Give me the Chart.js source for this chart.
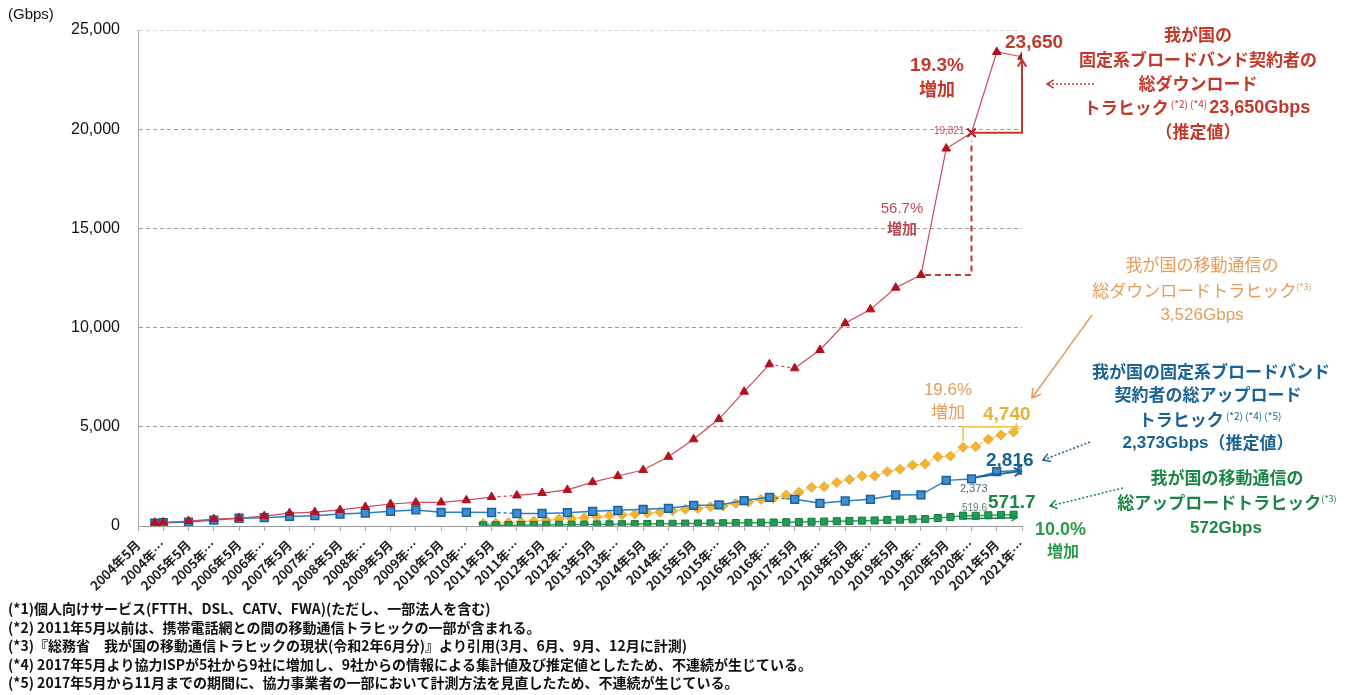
<!DOCTYPE html>
<html lang="ja">
<head>
<meta charset="utf-8">
<script src="https://cdn.jsdelivr.net/npm/chart.js@4.4.1/dist/chart.umd.min.js"></script>
<style>
  html, body { margin: 0; padding: 0; background: #fff; }
  #wrap { width: 1352px; height: 695px; }
</style>
</head>
<body>
<div id="wrap"><canvas id="myChart" width="1352" height="695"></canvas></div>
<script>
// Libellés de l'axe X (un tous les 6 mois)
const xLabels = [
  '2004年5月', '2004年…', '2005年5月', '2005年…', '2006年5月', '2006年…',
  '2007年5月', '2007年…', '2008年5月', '2008年…', '2009年5月', '2009年…',
  '2010年5月', '2010年…', '2011年5月', '2011年…', '2012年5月', '2012年…',
  '2013年5月', '2013年…', '2014年5月', '2014年…', '2015年5月', '2015年…',
  '2016年5月', '2016年…', '2017年5月', '2017年…', '2018年5月', '2018年…',
  '2019年5月', '2019年…', '2020年5月', '2020年…', '2021年5月', '2021年…'
];
const yTicks = [0, 5000, 10000, 15000, 20000, 25000];

// 固定系ブロードバンド（5月・11月）
const fixedDates = [
  '2004/9', '2004/11', '2005/5', '2005/11', '2006/5', '2006/11', '2007/5', '2007/11',
  '2008/5', '2008/11', '2009/5', '2009/11', '2010/5', '2010/11', '2011/5', '2011/11',
  '2012/5', '2012/11', '2013/5', '2013/11', '2014/5', '2014/11', '2015/5', '2015/11',
  '2016/5', '2016/11', '2017/5', '2017/11', '2018/5', '2018/11', '2019/5', '2019/11',
  '2020/5', '2020/11', '2021/5', '2021/11'
];
const fixedDown = [
  170, 190, 250, 350, 400, 500, 650, 700,
  810, 960, 1110, 1190, 1190, 1300, 1460, 1540,
  1660, 1820, 2210, 2520, 2820, 3490, 4370, 5390,
  6770, 8150, 7950, 8870, 10220, 10920, 12010, 12650,
  19025, 19821, 23890, 23650
];
const fixedUp = [
  150, 170, 200, 300, 390, 420, 480, 520,
  600, 650, 740, 810, 690, 690, 680, 630,
  630, 670, 740, 790, 840, 890, 1040, 1060,
  1280, 1445, 1345, 1143, 1260, 1345, 1562, 1570,
  2300, 2373, 2737, 2816
];
// ruptures de série (trait pointillé après ces dates)
const breakDates = ['2011/5', '2016/11'];

// 移動通信（3月・6月・9月・12月）
const mobileDates = [
  '2011/3', '2011/6', '2011/9', '2011/12', '2012/3', '2012/6', '2012/9', '2012/12',
  '2013/3', '2013/6', '2013/9', '2013/12', '2014/3', '2014/6', '2014/9', '2014/12',
  '2015/3', '2015/6', '2015/9', '2015/12', '2016/3', '2016/6', '2016/9', '2016/12',
  '2017/3', '2017/6', '2017/9', '2017/12', '2018/3', '2018/6', '2018/9', '2018/12',
  '2019/3', '2019/6', '2019/9', '2019/12', '2020/3', '2020/6', '2020/9', '2020/12',
  '2021/3', '2021/6', '2021/9'
];
const mobileDown = [
  120, 140, 170, 200, 250, 290, 340, 380,
  420, 470, 520, 560, 600, 650, 700, 760,
  840, 880, 970, 1010, 1140, 1200, 1340, 1400,
  1560, 1700, 1950, 1980, 2190, 2350, 2520, 2520,
  2740, 2860, 3070, 3130, 3490, 3526, 3963, 4000,
  4370, 4590, 4740
];
const mobileUp = [
  35, 38, 42, 46, 52, 56, 62, 66,
  72, 78, 84, 88, 95, 100, 108, 112,
  120, 126, 135, 140, 150, 158, 168, 175,
  190, 200, 215, 222, 240, 255, 270, 278,
  300, 320, 340, 350, 400, 455, 519.6, 515,
  540, 555, 571.7
];

const footnotes = [
  '(*1)個人向けサービス(FTTH、DSL、CATV、FWA)(ただし、一部法人を含む)',
  '(*2) 2011年5月以前は、携帯電話網との間の移動通信トラヒックの一部が含まれる。',
  '(*3)『総務省　我が国の移動通信トラヒックの現状(令和2年6月分)』より引用(3月、6月、9月、12月に計測)',
  '(*4) 2017年5月より協力ISPが5社から9社に増加し、9社からの情報による集計値及び推定値としたため、不連続が生じている。',
  '(*5) 2017年5月から11月までの期間に、協力事業者の一部において計測方法を見直したため、不連続が生じている。'
];

const CJK = '"Noto Sans CJK JP", "Noto Sans", sans-serif';
const LAT = '"Liberation Sans", Arial, sans-serif';
const RED = '#c0392b', ORANGE = '#e39d5e', YELLOW = '#e8b230', BLUE = '#1b6393', GREEN = '#1c8646';

// mois écoulés depuis 2004年5月
const toMonth = s => { const [y, m] = s.split('/').map(Number); return (y - 2004) * 12 + (m - 5); };
const toPoints = (dates, vals) => dates.map((d, i) => ({ x: toMonth(d), y: vals[i] }));
const breaks = breakDates.map(toMonth);
const dashBreak = ctx => breaks.includes(ctx.p0.parsed.x) ? [3, 3] : undefined;

// --- petites fonctions de dessin ---
function txt(ctx, s, x, y, color, size, weight, family, align) {
  ctx.save();
  ctx.fillStyle = color;
  ctx.font = `${weight} ${size}px ${family}`;
  ctx.textAlign = align || 'left';
  ctx.textBaseline = 'middle';
  ctx.fillText(s, x, y);
  ctx.restore();
}

// ligne composée de plusieurs morceaux, centrée sur x
function runs(ctx, parts, x, y, color) {
  ctx.save();
  let total = 0;
  parts.forEach(p => { ctx.font = `${p[2]} ${p[1]}px ${p[3]}`; total += ctx.measureText(p[0]).width; });
  let cx = x - total / 2;
  ctx.fillStyle = color;
  ctx.textBaseline = 'middle';
  parts.forEach(p => {
    ctx.font = `${p[2]} ${p[1]}px ${p[3]}`;
    ctx.fillText(p[0], cx, p[4] ? y - 4 : y);
    cx += ctx.measureText(p[0]).width;
  });
  ctx.restore();
}

function path(ctx, pts, color, width, dash, head) {
  ctx.save();
  ctx.strokeStyle = color;
  ctx.lineWidth = width;
  ctx.setLineDash(dash || []);
  ctx.beginPath();
  pts.forEach((p, i) => i ? ctx.lineTo(p[0], p[1]) : ctx.moveTo(p[0], p[1]));
  ctx.stroke();
  if (head) {
    const [x1, y1] = pts[pts.length - 2], [x2, y2] = pts[pts.length - 1];
    const a = Math.atan2(y2 - y1, x2 - x1);
    ctx.setLineDash([]);
    ctx.lineWidth = Math.max(width, 1.5);
    ctx.beginPath();
    ctx.moveTo(x2 - head * Math.cos(a - 0.55), y2 - head * Math.sin(a - 0.55));
    ctx.lineTo(x2, y2);
    ctx.lineTo(x2 - head * Math.cos(a + 0.55), y2 - head * Math.sin(a + 0.55));
    ctx.stroke();
  }
  ctx.restore();
}

const annotations = {
  id: 'annotations',
  afterDraw(chart) {
    const ctx = chart.ctx;
    const xs = chart.scales.x, ys = chart.scales.y;
    const X = d => xs.getPixelForValue(toMonth(d));
    const Y = v => ys.getPixelForValue(v);

    txt(ctx, '(Gbps)', 8, 15, '#111', 15, 'normal', LAT);

    // --- 固定系ダウンロード ---
    path(ctx, [[X('2019/11') + 4, Y(12650)], [X('2020/11'), Y(12650)], [X('2020/11'), Y(19821) + 8]], RED, 2, [6, 4]);
    path(ctx, [[X('2020/11'), Y(19821)], [X('2021/11'), Y(19821)], [X('2021/11'), Y(23650) + 3]], RED, 2, null, 8);
    txt(ctx, '19,821', X('2020/11') - 7, Y(19821) - 2, '#c05060', 10, 'normal', LAT, 'right');
    txt(ctx, '56.7%', X('2019/11') - 19, Y(16000), '#b94a55', 15, 'normal', LAT, 'center');
    txt(ctx, '増加', X('2019/11') - 19, Y(15000), '#b94a55', 15, 'bold', CJK, 'center');
    txt(ctx, '19.3%', 937, 66, RED, 19, 'bold', LAT, 'center');
    txt(ctx, '増加', 937, 89, RED, 18, 'bold', CJK, 'center');
    txt(ctx, '23,650', 1005, 43, RED, 19, 'bold', LAT);
    path(ctx, [[1094, 84], [1047, 84]], RED, 1.5, [2, 2], 8);
    runs(ctx, [['我が国の', 17, 'bold', CJK]], 1198, 35, RED);
    runs(ctx, [['固定系ブロードバンド契約者の', 17, 'bold', CJK]], 1198, 60, RED);
    runs(ctx, [['総ダウンロード', 17, 'bold', CJK]], 1198, 84, RED);
    runs(ctx, [['トラヒック', 17, 'bold', CJK], [' (*2) (*4) ', 10, 'normal', CJK, true], ['23,650Gbps', 18, 'bold', LAT]], 1197, 108, RED);
    runs(ctx, [['（推定値）', 17, 'bold', CJK]], 1198, 132, RED);

    // --- 移動通信ダウンロード ---
    runs(ctx, [['我が国の移動通信の', 17, 'normal', CJK]], 1202, 265, ORANGE);
    runs(ctx, [['総ダウンロードトラヒック', 17, 'normal', CJK], ['(*3)', 9, 'normal', CJK, true]], 1202, 291, ORANGE);
    runs(ctx, [['3,526Gbps', 17, 'normal', LAT]], 1202, 315, ORANGE);
    path(ctx, [[1092, 315], [1032, 398]], ORANGE, 1.5, null, 10);
    txt(ctx, '19.6%', 948, 390, ORANGE, 17, 'normal', LAT, 'center');
    txt(ctx, '増加', 948, 412, ORANGE, 17, 'normal', CJK, 'center');
    txt(ctx, '4,740', 983, 415, YELLOW, 19, 'bold', LAT);
    path(ctx, [[X('2020/9'), Y(3963) - 6], [X('2020/9'), Y(5000)], [X('2021/9') + 4, Y(5000)], [X('2021/9') + 1, Y(4740) - 3]], '#e8c04a', 1.5, null, 6);

    // --- 固定系アップロード ---
    runs(ctx, [['我が国の固定系ブロードバンド', 17, 'bold', CJK]], 1211, 372, BLUE);
    runs(ctx, [['契約者の総アップロード', 17, 'bold', CJK]], 1208, 395, BLUE);
    runs(ctx, [['トラヒック', 17, 'bold', CJK], [' (*2) (*4) (*5)', 10, 'normal', CJK, true]], 1210, 420, BLUE);
    runs(ctx, [['2,373Gbps', 17, 'bold', LAT], ['（推定値）', 17, 'bold', CJK]], 1208, 443, BLUE);
    path(ctx, [[1090, 442], [1043, 460]], BLUE, 1.5, [2, 2], 8);
    path(ctx, [[X('2020/11') + 5, Y(2373) - 2], [X('2021/11') - 1, Y(2816) + 1]], BLUE, 2, null, 8);
    txt(ctx, '2,816', 986, 461, BLUE, 19, 'bold', LAT);
    txt(ctx, '2,373', 960, 489, '#4f6a80', 11, 'normal', LAT);

    // --- 移動通信アップロード ---
    runs(ctx, [['我が国の移動通信の', 17, 'bold', CJK]], 1227, 478, GREEN);
    runs(ctx, [['総アップロードトラヒック', 17, 'bold', CJK], ['(*3)', 9, 'normal', CJK, true]], 1227, 503, GREEN);
    runs(ctx, [['572Gbps', 17, 'bold', LAT]], 1226, 528, GREEN);
    path(ctx, [[1123, 488], [1050, 506]], GREEN, 1.5, [2, 2], 8);
    path(ctx, [[X('2020/9'), Y(519.6) + 3], [X('2021/9') + 3, Y(571.7) + 3]], GREEN, 1.5, null, 6);
    txt(ctx, '571.7', 988, 503, GREEN, 19, 'bold', LAT);
    txt(ctx, '519.6', 962, 508, '#5f7f68', 10, 'normal', LAT);
    txt(ctx, '10.0%', 1035, 530, '#2a9a4a', 18, 'bold', LAT);
    txt(ctx, '増加', 1063, 551, '#2a9a4a', 16, 'bold', CJK, 'center');

    // --- notes ---
    footnotes.forEach((n, i) => txt(ctx, n, 8, 609 + i * 18.5, '#111', 14, 'bold', CJK));
  }
};

const ctx = document.getElementById('myChart').getContext('2d');
new Chart(ctx, {
  type: 'line',
  data: {
    datasets: [
      {
        label: '固定系ダウンロード',
        data: toPoints(fixedDates, fixedDown),
        borderColor: '#cf4a5c',
        borderWidth: 1.2,
        pointStyle: c => c.raw && c.raw.x === toMonth('2020/11') ? 'crossRot' : 'triangle',
        pointRadius: c => c.raw && c.raw.x === toMonth('2020/11') ? 6 : 5,
        pointBorderWidth: c => c.raw && c.raw.x === toMonth('2020/11') ? 2 : 1,
        pointBackgroundColor: '#b3121f',
        pointBorderColor: '#b3121f',
        segment: { borderDash: dashBreak },
        order: 1
      },
      {
        label: '固定系アップロード',
        data: toPoints(fixedDates, fixedUp),
        borderColor: '#2a7fc1',
        borderWidth: 1.5,
        pointStyle: 'rect',
        pointRadius: 5.5,
        pointBackgroundColor: '#3d8fd0',
        pointBorderColor: '#1a5f9e',
        pointBorderWidth: 1.5,
        segment: { borderDash: dashBreak },
        order: 2
      },
      {
        label: '移動通信アップロード',
        data: toPoints(mobileDates, mobileUp),
        borderColor: '#2ea35a',
        borderWidth: 1.5,
        pointStyle: 'rect',
        pointRadius: 5,
        pointBackgroundColor: '#1f9d55',
        pointBorderColor: '#157a3c',
        pointBorderWidth: 1,
        order: 3
      },
      {
        label: '移動通信ダウンロード',
        data: toPoints(mobileDates, mobileDown),
        borderColor: '#f2c25a',
        borderWidth: 1,
        pointStyle: 'rectRot',
        pointRadius: 5,
        pointBackgroundColor: '#f2b530',
        pointBorderColor: '#e9a82a',
        pointBorderWidth: 1,
        order: 4
      }
    ]
  },
  options: {
    responsive: false,
    animation: false,
    layout: { padding: { left: 0, top: 30, right: 330, bottom: 0 } },
    plugins: { legend: { display: false }, tooltip: { enabled: false } },
    scales: {
      x: {
        type: 'linear',
        min: 0,
        max: (xLabels.length - 1) * 6,
        afterBuildTicks: scale => { scale.ticks = xLabels.map((_, i) => ({ value: i * 6 })); },
        afterFit: scale => { scale.height = 169; },
        ticks: {
          autoSkip: false,
          minRotation: 45,
          maxRotation: 45,
          padding: 6,
          color: '#222',
          font: { size: 13, weight: 'bold', family: CJK },
          callback: (v, i) => xLabels[i]
        },
        grid: { drawOnChartArea: false, drawTicks: true, tickLength: 5, color: '#aaa' },
        border: { color: '#999', width: 1 }
      },
      y: {
        min: 0,
        max: 25000,
        afterBuildTicks: scale => { scale.ticks = yTicks.map(v => ({ value: v })); },
        afterFit: scale => { scale.width = 138; },
        ticks: {
          padding: 18,
          color: '#111',
          font: { size: 16, family: LAT },
          callback: v => v.toLocaleString('en-US')
        },
        grid: {
          drawTicks: false,
          color: c => c.tick.value === 0 ? 'rgba(0,0,0,0)' : (c.tick.value === 25000 ? '#d5d5d5' : '#9a9a9a'),
          lineWidth: 1
        },
        border: { color: '#aaa', width: 1, dash: [4, 3] }
      }
    }
  },
  plugins: [annotations]
});
</script>
</body>
</html>
